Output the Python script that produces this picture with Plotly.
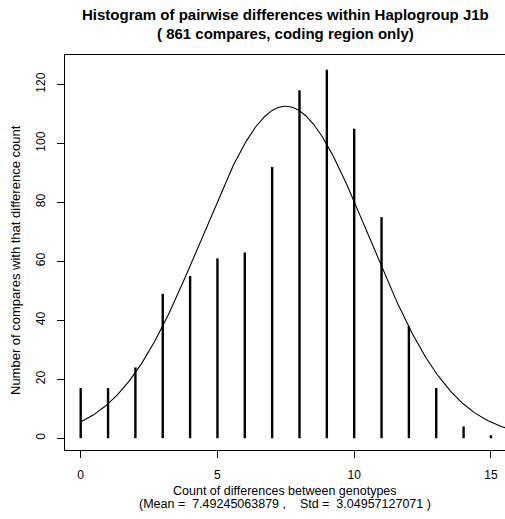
import numpy as np
import plotly.graph_objects as go

# Data
differences = [0, 1, 2, 3, 4, 5, 6, 7, 8, 9, 10, 11, 12, 13, 14, 15]
compares = [17, 17, 24, 49, 55, 61, 63, 92, 118, 125, 105, 75, 38, 17, 4, 1]
n_compares = 861
mean_val = 7.49245063879
std_val = 3.04957127071
x_ticks = [0, 5, 10, 15]
y_ticks = [0, 20, 40, 60, 80, 100, 120]

# Fitted normal curve (scaled to counts, bin width 1)
cx = np.linspace(0, 16, 400)
cy = n_compares * np.exp(-0.5 * ((cx - mean_val) / std_val) ** 2) / (std_val * np.sqrt(2 * np.pi))

# Spikes (type="h") built from the data
sx, sy = [], []
for d, c in zip(differences, compares):
    sx += [d, d, None]
    sy += [0, c, None]

FONT = "Liberation Sans, Arial, sans-serif"

fig = go.Figure()
fig.add_trace(go.Scatter(x=sx, y=sy, mode="lines",
                         line=dict(color="black", width=2.4),
                         showlegend=False, hoverinfo="x+y"))
fig.add_trace(go.Scatter(x=cx, y=cy, mode="lines",
                         line=dict(color="black", width=1.1),
                         showlegend=False, hoverinfo="skip"))

W, H = 505, 519
L, R, T, B = 65, 0, 55, 69
plot_h = H - T - B

def py(ypx):
    return (H - B - ypx) / plot_h

fig.update_layout(
    width=W, height=H,
    margin=dict(l=L, r=R, t=T, b=B, pad=0),
    paper_bgcolor="white", plot_bgcolor="white",
    font=dict(family=FONT, size=12, color="black"),
    xaxis=dict(range=[-0.574, 15.514], tickvals=x_ticks, ticktext=[str(v) for v in x_ticks],
               showgrid=False, zeroline=False, showline=True, linecolor="black", linewidth=1,
               mirror=True, ticks="outside", ticklen=7, tickwidth=1, tickcolor="black",
               tickfont=dict(size=12, family=FONT), ticklabelstandoff=7),
    yaxis=dict(range=[-4, 130], tickvals=y_ticks, ticktext=[str(v) for v in y_ticks],
               showgrid=False, zeroline=False, showline=True, linecolor="black", linewidth=1,
               mirror=False, ticks="outside", ticklen=7, tickwidth=1, tickcolor="black",
               tickangle=-90, tickfont=dict(size=12, family=FONT), ticklabelstandoff=7),
)

annots = [
    dict(text="<b>Histogram of pairwise differences within Haplogroup J1b</b>",
         x=0.5, y=py(15), size=15),
    dict(text="<b>( 861 compares, coding region only)</b>", x=0.5, y=py(33.3), size=15),
    dict(text="Count of differences between genotypes", x=0.5, y=py(490.5), size=12.5),
    dict(text="(Mean =  7.49245063879 ,    Std =  3.04957127071 )", x=0.5, y=py(504), size=12.5),
]
for a in annots:
    fig.add_annotation(text=a["text"], x=a["x"], y=a["y"], xref="paper", yref="paper",
                       xanchor="center", yanchor="middle", showarrow=False,
                       font=dict(size=a["size"], family=FONT, color="black"))

fig.add_annotation(text="Number of compares with that difference count",
                   x=(15 - L) / (W - L - R), y=py(260), xref="paper", yref="paper",
                   xanchor="center", yanchor="middle", textangle=-90, showarrow=False,
                   font=dict(size=13, family=FONT, color="black"))

fig.write_html("out.html")
